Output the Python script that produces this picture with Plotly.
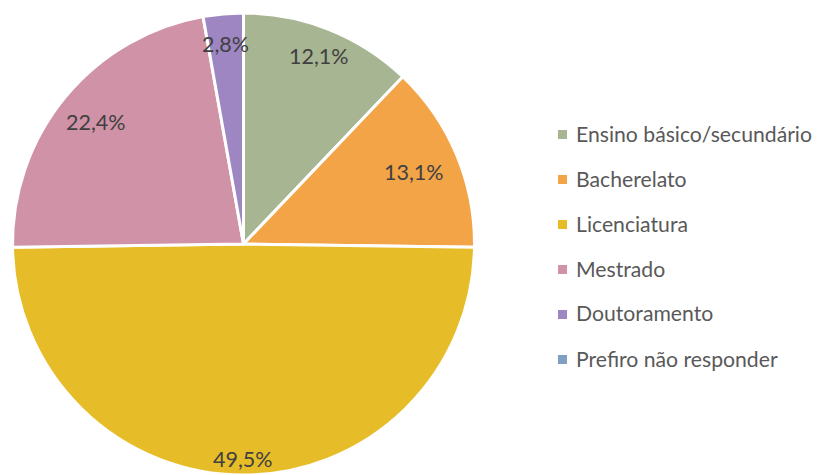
import math
import plotly.graph_objects as go

categories = ["Ensino básico/secundário", "Bacherelato", "Licenciatura",
              "Mestrado", "Doutoramento", "Prefiro não responder"]
values = [12.1, 13.1, 49.5, 22.4, 2.8, 0.0]
value_labels = ["12,1%", "13,1%", "49,5%", "22,4%", "2,8%", ""]
colors = ["#A7B593", "#F2A447", "#E6BC28", "#D092A7", "#9D86C1", "#7F9FC3"]
label_radius = [0.875, 0.80, 0.93, 0.83, 0.87, 0.85]

# page is shown with an 8px body margin, so the figure is laid out 8px smaller
W, H = 817, 467
MT = 5
PH = H - MT
cx_px, cy_px, R = 235.5, 236.0, 231.0
FONT = "Lato"
FS = 21.5
LEG_FS = 21.2

def px_x(x):
    return x / W

def px_y(y):
    return (H - y) / PH

fig = go.Figure()
fig.add_trace(go.Pie(
    labels=categories, values=values, sort=False, direction="clockwise",
    rotation=0, marker=dict(colors=colors, line=dict(color="white", width=3)),
    textinfo="none", hoverinfo="label+value", showlegend=False,
    domain=dict(x=[(cx_px - R) / W, (cx_px + R) / W], y=[0, 1]),
))

# data labels placed from the cumulative values
total = sum(values)
cum = 0.0
annotations = []
for v, txt, f in zip(values, value_labels, label_radius):
    mid = (cum + v / 2) / total * 2 * math.pi
    cum += v
    if not txt:
        continue
    x = cx_px + R * f * math.sin(mid)
    y = cy_px - R * f * math.cos(mid)
    annotations.append(dict(
        x=px_x(x), y=px_y(y), xref="paper", yref="paper",
        text=txt, showarrow=False, xanchor="center", yanchor="middle",
        font=dict(family=FONT, size=FS, color="#404040"),
    ))

# legend (square swatch + label for each category)
shapes = []
leg_x0, leg_y0, leg_dy, sw = 554.5, 126.5, 45.0, 9.0
for i, (cat, col) in enumerate(zip(categories, colors)):
    yc = leg_y0 + i * leg_dy
    shapes.append(dict(
        type="rect", xref="paper", yref="paper",
        x0=px_x(leg_x0 - sw / 2), x1=px_x(leg_x0 + sw / 2),
        y0=px_y(yc + sw / 2), y1=px_y(yc - sw / 2),
        fillcolor=col, line=dict(width=0),
    ))
    annotations.append(dict(
        x=px_x(leg_x0 + 11), y=px_y(yc - 1), xref="paper", yref="paper",
        text=cat, showarrow=False, xanchor="left", yanchor="middle",
        font=dict(family=FONT, size=LEG_FS, color="#595959"),
    ))

fig.update_layout(
    width=W, height=H,
    margin=dict(l=0, r=0, t=MT, b=0),
    paper_bgcolor="white", plot_bgcolor="white",
    annotations=annotations, shapes=shapes, showlegend=False,
)

fig.write_html("out.html")
